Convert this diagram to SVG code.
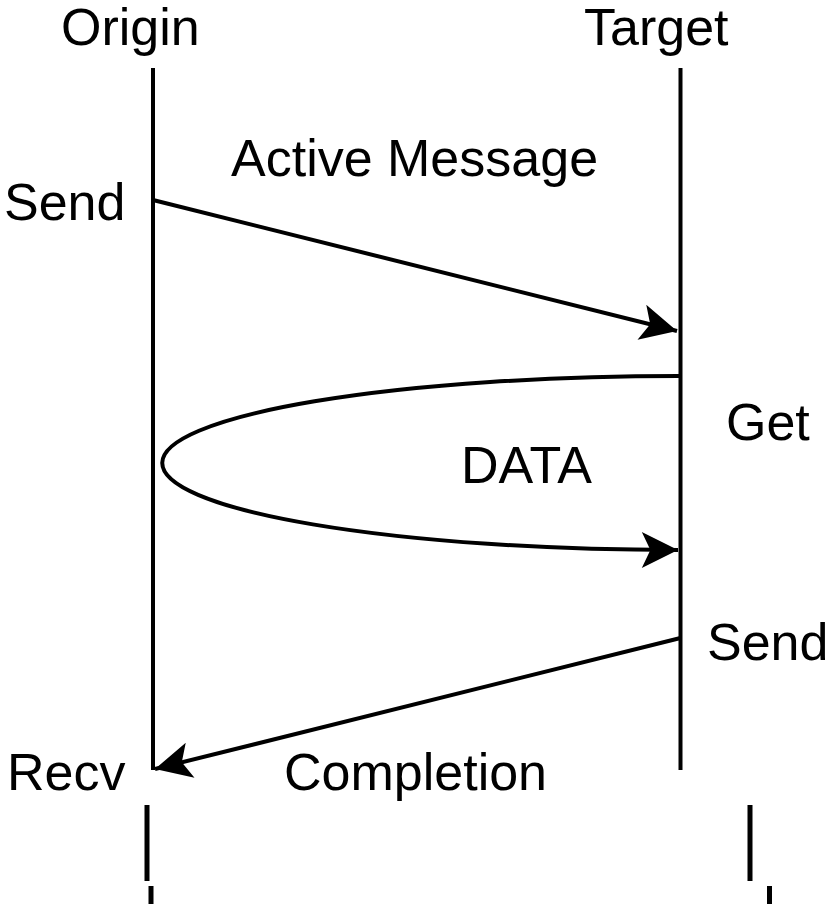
<svg xmlns="http://www.w3.org/2000/svg" width="830" height="909" viewBox="0 0 830 909">
<style>
text{font-family:"Liberation Sans",Arial,sans-serif;font-size:52px;fill:#000}
.ln{stroke:#000;stroke-width:4;fill:none}
</style>
<defs>
<marker id="ah" markerUnits="userSpaceOnUse" markerWidth="40" markerHeight="40" viewBox="-40 -20 42 40" refX="0" refY="0" orient="auto" overflow="visible">
<path d="M0,0 L-38,-19 L-29,0 L-38,19 Z" fill="#000"/>
</marker>
</defs>
<g id="origin">
<text x="61" y="45">Origin</text>
<line class="ln" x1="153" y1="68" x2="153" y2="770"/>
</g>
<g id="target">
<text x="584" y="45">Target</text>
<line class="ln" x1="680.5" y1="68" x2="680.5" y2="770"/>
</g>
<g id="labels">
<text x="231" y="176">Active Message</text>
<text x="4" y="220">Send</text>
<text x="726" y="440">Get</text>
<text x="461" y="483">DATA</text>
<text x="707" y="660">Send</text>
<text x="7" y="790">Recv</text>
<text x="284" y="790">Completion</text>
</g>
<g id="connectors">
<line class="ln" x1="153" y1="200" x2="677" y2="331" marker-end="url(#ah)"/>
<path class="ln" d="M680.5,376 A517,87 0 0 0 678,550" marker-end="url(#ah)"/>
<line class="ln" x1="680.5" y1="638" x2="155" y2="769" marker-end="url(#ah)"/>
</g>
<g id="marks" fill="#000">
<rect x="144.5" y="805" width="5" height="76"/>
<rect x="148.5" y="886" width="5" height="18"/>
<rect x="747.5" y="805" width="5" height="76"/>
<rect x="767" y="886" width="5" height="18"/>
</g>
</svg>
